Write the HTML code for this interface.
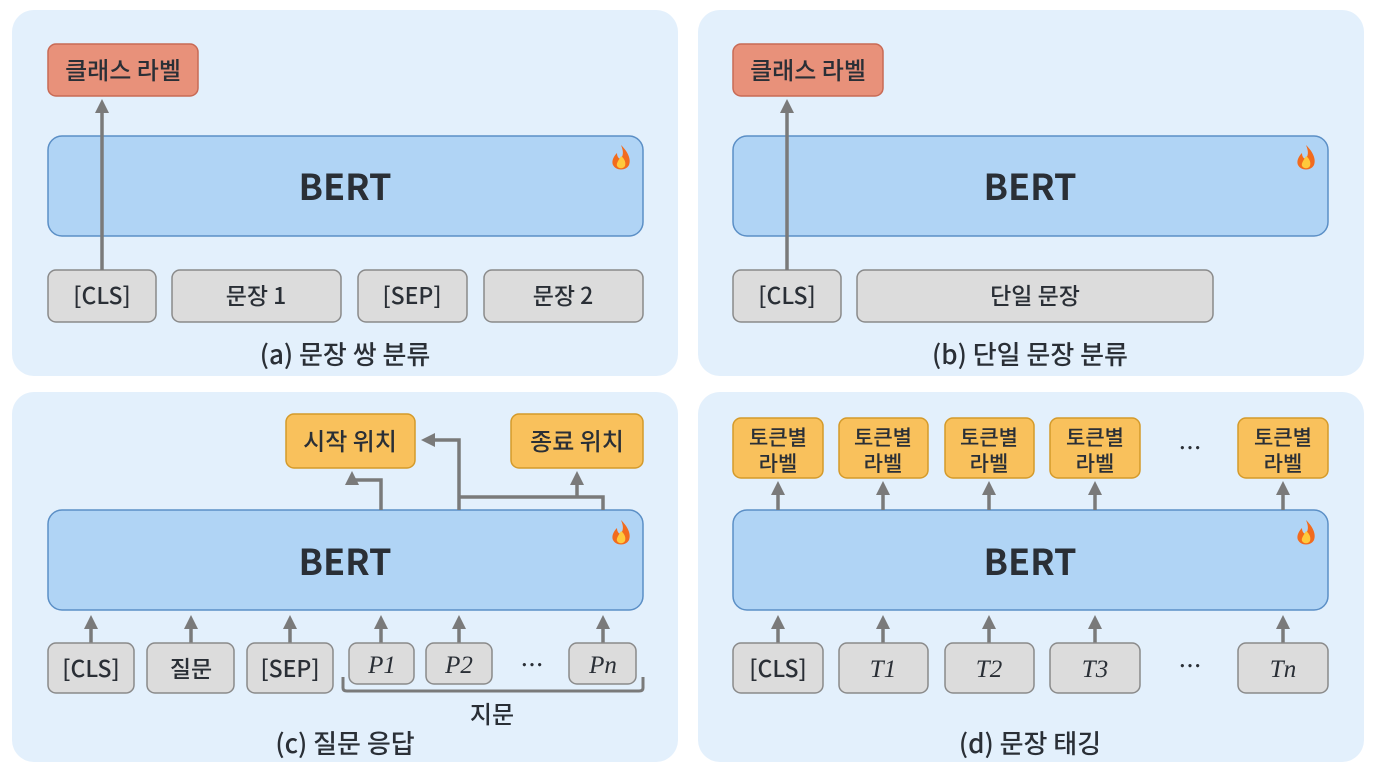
<!DOCTYPE html>
<html><head><meta charset="utf-8"><style>
body{margin:0;width:1376px;height:768px;background:#fff;overflow:hidden}
svg text{font-family:"Noto Sans CJK KR","Liberation Sans",sans-serif;fill:#2a2f36;font-weight:500}
</style></head><body>
<svg width="1376" height="768" viewBox="0 0 1376 768" xmlns="http://www.w3.org/2000/svg">
<defs>
<marker id="ah" markerWidth="4" markerHeight="4" refX="2" refY="2" orient="auto" markerUnits="strokeWidth"><path d="M0,0L4,2L0,4Z" fill="#7a7a7a"/></marker>
<g id="fire"><path d="M0,-13 C8,-5 10,2 8,7 C5,13 -5,13 -8,7 C-10,2 -6,-3 -4,-5 C-4,0 -1,1 0,1 C3,-4 2,-8 0,-13Z" fill="#f26b1d"/><path d="M0,-2 C4,1 5,5 4,8 C2,11 -2,11 -4,8 C-5,5 -2,2 0,-2Z" fill="#ffc93c"/></g>
</defs>
<g stroke="none" fill="#e3f0fc">
<rect x="12" y="10" width="666" height="366" rx="22"/>
<rect x="698" y="10" width="666" height="366" rx="22"/>
<rect x="12" y="392" width="666" height="370" rx="22"/>
<rect x="698" y="392" width="666" height="370" rx="22"/>
</g>
<g font-size="23" text-anchor="middle">
<!-- Panel a -->
<rect x="48" y="44" width="150" height="52" rx="8" fill="#e8917a" stroke="#c86a55" stroke-width="1.5"/>
<text x="123" y="79" font-size="24">클래스 라벨</text>
<rect x="48" y="136" width="595" height="100" rx="14" fill="#b0d4f5" stroke="#5b8fc6" stroke-width="1.5"/>
<text x="345" y="200" font-size="36" font-weight="bold" style="font-weight:bold">BERT</text>
<use href="#fire" x="621" y="158"/>
<g fill="#dcdcdc" stroke="#8a8a8a" stroke-width="1.5">
<rect x="48" y="270" width="108" height="52" rx="8"/><rect x="172" y="270" width="169" height="52" rx="8"/>
<rect x="358" y="270" width="109" height="52" rx="8"/><rect x="484" y="270" width="159" height="52" rx="8"/>
</g>
<text x="102" y="304">[CLS]</text><text x="256" y="304">문장 1</text><text x="412" y="304">[SEP]</text><text x="563" y="304">문장 2</text>
<line x1="102" y1="270" x2="102" y2="106" stroke="#7a7a7a" stroke-width="3.5" marker-end="url(#ah)"/>
<text x="345" y="364" font-size="26">(a) 문장 쌍 분류</text>
<!-- Panel b -->
<rect x="733" y="44" width="150" height="52" rx="8" fill="#e8917a" stroke="#c86a55" stroke-width="1.5"/>
<text x="808" y="79" font-size="24">클래스 라벨</text>
<rect x="733" y="136" width="595" height="100" rx="14" fill="#b0d4f5" stroke="#5b8fc6" stroke-width="1.5"/>
<text x="1030" y="200" font-size="36" style="font-weight:bold">BERT</text>
<use href="#fire" x="1306" y="158"/>
<g fill="#dcdcdc" stroke="#8a8a8a" stroke-width="1.5">
<rect x="733" y="270" width="108" height="52" rx="8"/><rect x="857" y="270" width="356" height="52" rx="8"/>
</g>
<text x="787" y="304">[CLS]</text><text x="1035" y="304">단일 문장</text>
<line x1="787" y1="270" x2="787" y2="106" stroke="#7a7a7a" stroke-width="3.5" marker-end="url(#ah)"/>
<text x="1030" y="364" font-size="26">(b) 단일 문장 분류</text>
<!-- Panel c -->
<rect x="286" y="414" width="129" height="54" rx="8" fill="#f9c15c" stroke="#d49a2a" stroke-width="1.5"/>
<text x="350" y="450" font-size="24">시작 위치</text>
<rect x="511" y="414" width="132" height="54" rx="8" fill="#f9c15c" stroke="#d49a2a" stroke-width="1.5"/>
<text x="577" y="450" font-size="24">종료 위치</text>
<rect x="48" y="510" width="595" height="100" rx="14" fill="#b0d4f5" stroke="#5b8fc6" stroke-width="1.5"/>
<text x="345" y="575" font-size="36" style="font-weight:bold">BERT</text>
<use href="#fire" x="621" y="533"/>
<g fill="none" stroke="#7a7a7a" stroke-width="3.5">
<polyline points="381,510 381,480 352,480 352,478" marker-end="url(#ah)"/>
<polyline points="459,510 459,440 428,440" marker-end="url(#ah)"/>
<polyline points="459,497 603,497 603,510"/>
<line x1="577" y1="497" x2="577" y2="478" marker-end="url(#ah)"/>
</g>
<g stroke="#7a7a7a" stroke-width="3.5">
<line x1="91" y1="643" x2="91" y2="622" marker-end="url(#ah)"/>
<line x1="191" y1="643" x2="191" y2="622" marker-end="url(#ah)"/>
<line x1="290" y1="643" x2="290" y2="622" marker-end="url(#ah)"/>
<line x1="381" y1="643" x2="381" y2="622" marker-end="url(#ah)"/>
<line x1="459" y1="643" x2="459" y2="622" marker-end="url(#ah)"/>
<line x1="603" y1="643" x2="603" y2="622" marker-end="url(#ah)"/>
</g>
<g fill="#dcdcdc" stroke="#8a8a8a" stroke-width="1.5">
<rect x="48" y="643" width="86" height="50" rx="8"/><rect x="147" y="643" width="87" height="50" rx="8"/>
<rect x="247" y="643" width="86" height="50" rx="8"/><rect x="349" y="643" width="65" height="41" rx="8"/>
<rect x="426" y="643" width="66" height="41" rx="8"/><rect x="569" y="643" width="67" height="41" rx="8"/>
</g>
<text x="91" y="677">[CLS]</text><text x="191" y="677">질문</text><text x="290" y="677">[SEP]</text>
<g font-size="25">
<text x="382" y="673" style="font-family:'Liberation Serif',serif;font-style:italic">P1</text>
<text x="459" y="673" style="font-family:'Liberation Serif',serif;font-style:italic">P2</text>
<text x="603" y="673" style="font-family:'Liberation Serif',serif;font-style:italic">Pn</text>
</g>
<text x="532" y="673">…</text>
<path d="M343,677 L343,688 Q343,691 347,691 L639,691 Q643,691 643,688 L643,677" fill="none" stroke="#7a7a7a" stroke-width="3"/>
<text x="492" y="723" font-size="24">지문</text>
<text x="345" y="753" font-size="26">(c) 질문 응답</text>
<!-- Panel d -->
<g fill="#f9c15c" stroke="#d49a2a" stroke-width="1.5">
<rect x="733" y="418" width="90" height="60" rx="8"/><rect x="839" y="418" width="89" height="60" rx="8"/>
<rect x="945" y="418" width="89" height="60" rx="8"/><rect x="1050" y="418" width="90" height="60" rx="8"/>
<rect x="1238" y="418" width="90" height="60" rx="8"/>
</g>
<g font-size="21">
<text x="778" y="445">토큰별</text><text x="778" y="471">라벨</text>
<text x="883" y="445">토큰별</text><text x="883" y="471">라벨</text>
<text x="989" y="445">토큰별</text><text x="989" y="471">라벨</text>
<text x="1095" y="445">토큰별</text><text x="1095" y="471">라벨</text>
<text x="1283" y="445">토큰별</text><text x="1283" y="471">라벨</text>
</g>
<text x="1190" y="456">…</text>
<rect x="733" y="510" width="595" height="100" rx="14" fill="#b0d4f5" stroke="#5b8fc6" stroke-width="1.5"/>
<text x="1030" y="575" font-size="36" style="font-weight:bold">BERT</text>
<use href="#fire" x="1306" y="533"/>
<g stroke="#7a7a7a" stroke-width="3.5">
<line x1="778" y1="510" x2="778" y2="488" marker-end="url(#ah)"/>
<line x1="883" y1="510" x2="883" y2="488" marker-end="url(#ah)"/>
<line x1="989" y1="510" x2="989" y2="488" marker-end="url(#ah)"/>
<line x1="1095" y1="510" x2="1095" y2="488" marker-end="url(#ah)"/>
<line x1="1283" y1="510" x2="1283" y2="488" marker-end="url(#ah)"/>
<line x1="778" y1="643" x2="778" y2="622" marker-end="url(#ah)"/>
<line x1="883" y1="643" x2="883" y2="622" marker-end="url(#ah)"/>
<line x1="989" y1="643" x2="989" y2="622" marker-end="url(#ah)"/>
<line x1="1095" y1="643" x2="1095" y2="622" marker-end="url(#ah)"/>
<line x1="1283" y1="643" x2="1283" y2="622" marker-end="url(#ah)"/>
</g>
<g fill="#dcdcdc" stroke="#8a8a8a" stroke-width="1.5">
<rect x="733" y="643" width="90" height="50" rx="8"/><rect x="839" y="643" width="89" height="50" rx="8"/>
<rect x="945" y="643" width="89" height="50" rx="8"/><rect x="1050" y="643" width="90" height="50" rx="8"/>
<rect x="1238" y="643" width="90" height="50" rx="8"/>
</g>
<text x="778" y="677">[CLS]</text>
<g font-size="25">
<text x="883" y="677" style="font-family:'Liberation Serif',serif;font-style:italic">T1</text>
<text x="989" y="677" style="font-family:'Liberation Serif',serif;font-style:italic">T2</text>
<text x="1095" y="677" style="font-family:'Liberation Serif',serif;font-style:italic">T3</text>
<text x="1283" y="677" style="font-family:'Liberation Serif',serif;font-style:italic">Tn</text>
</g>
<text x="1190" y="674">…</text>
<text x="1030" y="753" font-size="26">(d) 문장 태깅</text>
</g>
</svg>
</body></html>
